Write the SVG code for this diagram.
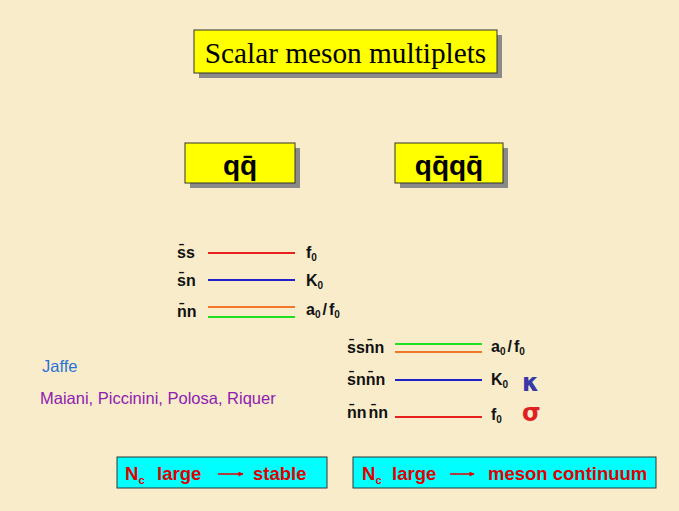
<svg xmlns="http://www.w3.org/2000/svg" width="679" height="511" viewBox="0 0 679 511">
<style>
.lbl{font-family:"Liberation Sans",Arial,sans-serif;font-weight:bold;font-size:16px;fill:#111}
.sub{font-size:10px}
.yb{fill:#FFFF00;stroke:#333;stroke-width:1}
.sh{fill:#8a8a8a}
.cb{fill:#00FFFF;stroke:#333;stroke-width:1}
.rt{font-family:"Liberation Sans",Arial,sans-serif;font-weight:bold;font-size:18.5px;fill:#E00000}
.lv{stroke-width:2;fill:none}
</style>
<defs>
<marker id="ah" viewBox="0 0 10 10" refX="9" refY="5" markerWidth="7" markerHeight="5" orient="auto" markerUnits="userSpaceOnUse"><path d="M0,0 L10,5 L0,10 z" fill="#E00000"/></marker>
</defs>
<rect width="679" height="511" fill="#F8ECCB"/>
<g id="title">
<rect class="sh" x="199" y="35" width="303" height="43"/>
<rect class="yb" x="194" y="30" width="303" height="43"/>
<text x="345.5" y="63" text-anchor="middle" font-family="'Liberation Serif','Times New Roman',serif" font-size="29.3" fill="#000">Scalar meson multiplets</text>
</g>
<g id="qqbar">
<rect class="sh" x="190" y="148" width="110" height="40"/>
<rect class="yb" x="185" y="143" width="110" height="40"/>
<text x="240" y="175" text-anchor="middle" font-family="'Liberation Sans',Arial,sans-serif" font-weight="bold" font-size="28" fill="#000">qq̄</text>
</g>
<g id="qqqq">
<rect class="sh" x="400" y="148" width="108" height="40"/>
<rect class="yb" x="395" y="143" width="108" height="40"/>
<text x="449" y="175" text-anchor="middle" font-family="'Liberation Sans',Arial,sans-serif" font-weight="bold" font-size="28" fill="#000">qq̄qq̄</text>
</g>
<g id="connectors">
<line class="lv" x1="208" y1="253" x2="295" y2="253" stroke="#E82020"/>
<line class="lv" x1="208" y1="280" x2="295" y2="280" stroke="#2020C8"/>
<line class="lv" x1="208" y1="307" x2="295" y2="307" stroke="#F07828"/>
<line class="lv" x1="208" y1="317" x2="295" y2="317" stroke="#20E020"/>
<line class="lv" x1="395" y1="344" x2="482" y2="344" stroke="#20E020"/>
<line class="lv" x1="395" y1="352" x2="482" y2="352" stroke="#F07828"/>
<line class="lv" x1="395" y1="380" x2="482" y2="380" stroke="#2020C8"/>
<line class="lv" x1="395" y1="417" x2="482" y2="417" stroke="#E82020"/>
</g>
<g id="qq-levels">
<text class="lbl" x="177" y="258">s̄s</text>
<text class="lbl" x="177" y="286">s̄n</text>
<text class="lbl" x="177" y="317">n̄n</text>
<text class="lbl" x="306" y="258">f<tspan class="sub" dy="3">0</tspan></text>
<text class="lbl" x="306" y="286">K<tspan class="sub" dy="3">0</tspan></text>
<text class="lbl" x="306" y="315">a<tspan class="sub" dy="3">0</tspan><tspan dy="-3" dx="2">/</tspan><tspan dx="2">f</tspan><tspan class="sub" dy="3">0</tspan></text>
</g>
<g id="qqqq-levels">
<text class="lbl" x="347" y="353">s̄sn̄n</text>
<text class="lbl" x="347" y="385">s̄nn̄n</text>
<text class="lbl" x="347" y="418">n̄n<tspan dx="2">n̄n</tspan></text>
<text class="lbl" x="491" y="352">a<tspan class="sub" dy="3">0</tspan><tspan dy="-3" dx="2">/</tspan><tspan dx="2">f</tspan><tspan class="sub" dy="3">0</tspan></text>
<text class="lbl" x="491" y="385">K<tspan class="sub" dy="3">0</tspan></text>
<text class="lbl" x="491" y="420">f<tspan class="sub" dy="3">0</tspan></text>
<text x="522" y="391" font-family="'DejaVu Sans',sans-serif" font-weight="bold" font-size="24" fill="#3838A8">κ</text>
<text x="522" y="421" font-family="'DejaVu Sans',sans-serif" font-weight="bold" font-size="24" fill="#E02020">σ</text>
</g>
<g id="authors">
<text x="42" y="372" font-family="'Liberation Sans',Arial,sans-serif" font-size="16.5" fill="#2A72D8">Jaffe</text>
<text x="40" y="404" font-family="'Liberation Sans',Arial,sans-serif" font-size="16.5" fill="#9020B0">Maiani, Piccinini, Polosa, Riquer</text>
</g>
<g id="stable">
<rect class="cb" x="117" y="457" width="210" height="31"/>
<text class="rt" x="125" y="480">N<tspan font-size="11" dy="4">c</tspan><tspan dy="-4" x="157">large</tspan><tspan x="253">stable</tspan></text>
<line x1="218" y1="474" x2="243" y2="474" stroke="#E00000" stroke-width="1.5" marker-end="url(#ah)"/>
</g>
<g id="continuum">
<rect class="cb" x="353" y="457" width="303" height="31"/>
<text class="rt" x="362" y="480">N<tspan font-size="11" dy="4">c</tspan><tspan dy="-4" x="392">large</tspan><tspan x="488">meson continuum</tspan></text>
<line x1="450" y1="474" x2="474" y2="474" stroke="#E00000" stroke-width="1.5" marker-end="url(#ah)"/>
</g>
</svg>
